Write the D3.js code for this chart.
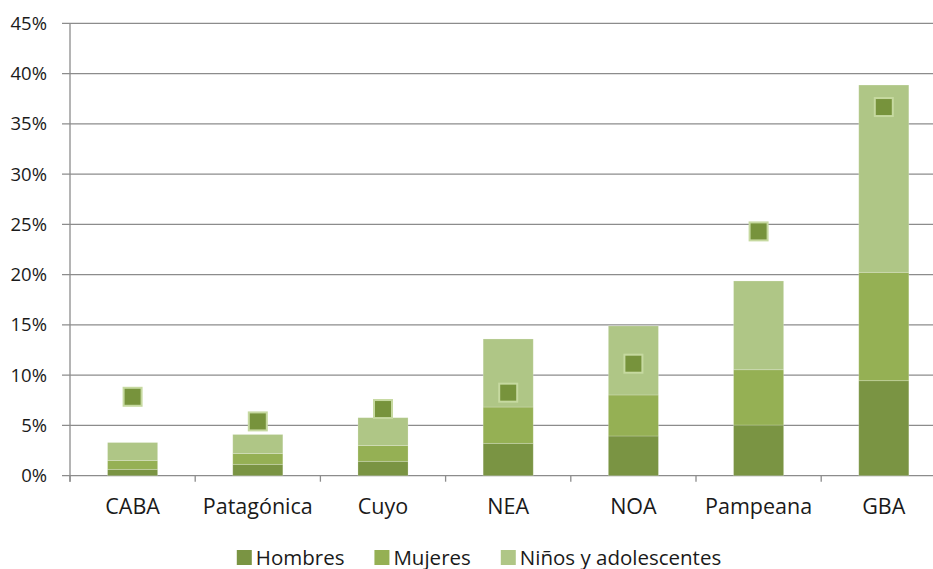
<!DOCTYPE html>
<html>
<head>
<meta charset="utf-8">
<script src="https://cdn.jsdelivr.net/npm/d3@7"></script>
<style>
  html, body { margin: 0; padding: 0; background: #fff; overflow: hidden; }
  svg { display: block; }
  text { font-family: "Open Sans", Lato, sans-serif; fill: #1a1a1a; }
</style>
</head>
<body>
<svg id="chart" width="933" height="569"></svg>
<script>
// ---- data ----
const categories = ["CABA", "Patagónica", "Cuyo", "NEA", "NOA", "Pampeana", "GBA"];
const hombres = [0.63, 1.13, 1.43, 3.22, 3.95, 5.04, 9.45];
const mujeres = [0.87, 1.07, 1.57, 3.61, 4.08, 5.50, 10.78];
const ninos   = [1.80, 1.90, 2.77, 6.77, 6.87, 8.83, 18.63];
const marcador = [7.85, 5.40, 6.63, 8.26, 11.14, 24.30, 36.67];
const yTicks = [0, 5, 10, 15, 20, 25, 30, 35, 40, 45];
const seriesNames = ["Hombres", "Mujeres", "Niños y adolescentes"];
const seriesColors = ["#7a9443", "#95b054", "#afc686"];

// ---- layout ----
const svg = d3.select("#chart");
const x0 = 70, bandW = 125.2;
const x = d3.scaleBand().domain(categories).range([x0, x0 + bandW * categories.length]).padding(0);
const y = d3.scaleLinear().domain([0, 45]).range([475.7, 23.3]);

// gridlines
svg.append("g").selectAll("line").data(yTicks).join("line")
  .attr("x1", x0 - 8).attr("x2", 950)
  .attr("y1", d => y(d)).attr("y2", d => y(d))
  .attr("stroke", "#8c8c8c").attr("stroke-width", 1.3);

// y labels
svg.append("g").selectAll("text").data(yTicks).join("text")
  .attr("x", 47).attr("y", d => y(d)).attr("dy", "0.35em")
  .attr("text-anchor", "end").attr("font-size", 18.5)
  .text(d => d + "%");

// y axis line
svg.append("line").attr("x1", x0).attr("x2", x0).attr("y1", y(45)).attr("y2", y(0) + 6)
  .attr("stroke", "#8c8c8c").attr("stroke-width", 1.3);

// x ticks
const bounds = categories.map(c => x(c)).concat([x0 + bandW * categories.length]);
svg.append("g").selectAll("line").data(bounds).join("line")
  .attr("x1", d => d).attr("x2", d => d).attr("y1", y(0)).attr("y2", y(0) + 6)
  .attr("stroke", "#8c8c8c").attr("stroke-width", 1.3);

// stacked bars
const stackData = categories.map((c, i) => ({cat: c, h: hombres[i], m: mujeres[i], n: ninos[i]}));
const stacked = d3.stack().keys(["h", "m", "n"])(stackData);
const bw = bandW * 0.4;
svg.append("g").selectAll("g").data(stacked).join("g")
  .attr("fill", (d, i) => seriesColors[i])
  .selectAll("rect").data(d => d).join("rect")
  .attr("x", d => x(d.data.cat) + (bandW - bw) / 2)
  .attr("width", bw)
  .attr("y", d => y(d[1]))
  .attr("height", d => y(d[0]) - y(d[1]))
  .attr("stroke", "rgba(255,255,255,0.25)").attr("stroke-width", 0.8);

// markers
const ms = 18;
svg.append("g").selectAll("rect").data(marcador).join("rect")
  .attr("x", (d, i) => x(categories[i]) + bandW / 2 - ms / 2)
  .attr("y", d => y(d) - ms / 2)
  .attr("width", ms).attr("height", ms)
  .attr("fill", "#77933c").attr("stroke", "#c6d9a0").attr("stroke-width", 2);

// x labels
svg.append("g").selectAll("text").data(categories).join("text")
  .attr("x", d => x(d) + bandW / 2).attr("y", 514)
  .attr("text-anchor", "middle").attr("font-size", 21.5)
  .text(d => d);

// legend
const lg = svg.append("g");
const items = [];
seriesNames.forEach((name, i) => {
  const g = lg.append("g");
  g.append("rect").attr("x", 0).attr("y", 550).attr("width", 15).attr("height", 15).attr("fill", seriesColors[i]);
  const t = g.append("text").attr("x", 19).attr("y", 564.5).attr("font-size", 20.5).text(name);
  const w = 19 + t.node().getComputedTextLength();
  items.push({g, w});
});
const gap = 30;
const total = d3.sum(items, d => d.w) + gap * (items.length - 1);
let start = 479 - total / 2;
items.forEach(it => { it.g.attr("transform", `translate(${start},0)`); start += it.w + gap; });
</script>
</body>
</html>
